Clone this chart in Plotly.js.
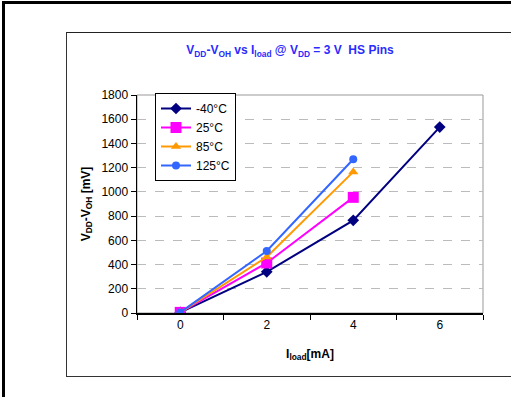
<!DOCTYPE html>
<html>
<head>
<meta charset="utf-8">
<script src="https://cdn.plot.ly/plotly-3.0.1.min.js"></script>
<style>
html,body{margin:0;padding:0;background:#fff;overflow:hidden;width:511px;height:397px;}
#wrap{position:relative;width:511px;height:397px;overflow:hidden;}
#chart{position:absolute;left:0;top:0;width:511px;height:397px;}
.fr{position:absolute;pointer-events:none;box-sizing:border-box;}
#outer{left:2px;top:1px;width:520px;height:410px;border-left:3px solid #000;border-top:3px solid #000;}
#inner{left:66px;top:32px;width:460px;height:345px;border-left:1.5px solid #333;border-top:1.5px solid #222;border-bottom:1.5px solid #333;}
</style>
</head>
<body>
<div id="wrap">
<div id="chart"></div>
<div class="fr" id="outer"></div>
<div class="fr" id="inner"></div>
</div>
<script>
var xLoad = [0, 2, 4, 6];
var seriesNames = ['-40°C', '25°C', '85°C', '125°C'];
var vM40 = [5, 340, 765, 1535];
var v25 = [5, 413, 955];
var v85 = [5, 462, 1165];
var v125 = [5, 512, 1270];
var xTickVals = [0, 2, 4, 6];
var xTickText = ['0', '2', '4', '6'];
var yTickVals = [0, 200, 400, 600, 800, 1000, 1200, 1400, 1600, 1800];

var colors = ['#000080', '#FF00FF', '#FF9900', '#3366FF'];
var symbols = ['diamond', 'square', 'triangle-up', 'circle'];
var sizes = [9, 11, 9, 8];
var ys = [vM40, v25, v85, v125];

var traces = ys.map(function (y, i) {
  return {
    x: xLoad.slice(0, y.length), y: y, name: seriesNames[i],
    type: 'scatter', mode: 'lines+markers',
    line: {color: colors[i], width: 2},
    marker: {color: colors[i], symbol: symbols[i], size: sizes[i]}
  };
});

var L = 137, R = 483, T = 95, B = 313;
function px(x) { return (x - L) / (R - L); }
function py(y) { return (B - y) / (B - T); }

var layout = {
  width: 511, height: 397,
  margin: {l: L, r: 511 - R, t: T, b: 397 - B},
  paper_bgcolor: 'rgba(0,0,0,0)', plot_bgcolor: '#ffffff',
  font: {family: 'Liberation Sans, Arial, sans-serif', size: 12, color: '#000'},
  showlegend: true,
  title: {
    text: '<b>V<sub>DD</sub>-V<sub>OH</sub> vs I<sub>load</sub> @ V<sub>DD</sub> = 3 V  HS Pins</b>',
    font: {size: 12, color: '#2B2BFF'},
    x: px(290), xref: 'paper', xanchor: 'center',
    y: 1 - 50 / 397, yref: 'container', yanchor: 'middle'
  },
  xaxis: {
    range: [-1, 7], tickvals: xTickVals, ticktext: xTickText,
    ticks: '', showgrid: false, zeroline: false,
    showline: true, linecolor: '#000', linewidth: 1.5,
    minor: {tick0: 1, dtick: 2, ticks: 'outside', ticklen: 5, tickcolor: '#000', tickwidth: 1, showgrid: false},
    tickfont: {size: 12},
    title: {text: '<b>I<sub>load</sub>[mA]</b>', font: {size: 12}, standoff: 18}
  },
  yaxis: {
    range: [0, 1800], tickvals: yTickVals,
    ticks: 'outside', ticklen: 5, tickcolor: '#000',
    showgrid: true, gridcolor: '#bbbbbb', griddash: 'dash', gridwidth: 1,
    zeroline: false, showline: true, linecolor: '#000', linewidth: 1.5,
    tickfont: {size: 12},
    title: {text: '<b>V<sub>DD</sub>-V<sub>OH</sub> [mV]</b>', font: {size: 12}, standoff: 8}
  },
  legend: {
    x: px(155), y: py(93), xanchor: 'left', yanchor: 'top',
    bordercolor: '#000', borderwidth: 1, bgcolor: '#fff',
    font: {size: 12}, tracegroupgap: 0
  },
  shapes: [
    {type: 'rect', xref: 'paper', yref: 'paper', x0: 0, x1: 1, y0: 0, y1: 1,
     line: {color: '#999', width: 1}, layer: 'below'}
  ]
};

Plotly.newPlot('chart', traces, layout, {displayModeBar: false, staticPlot: true});
</script>
</body>
</html>
